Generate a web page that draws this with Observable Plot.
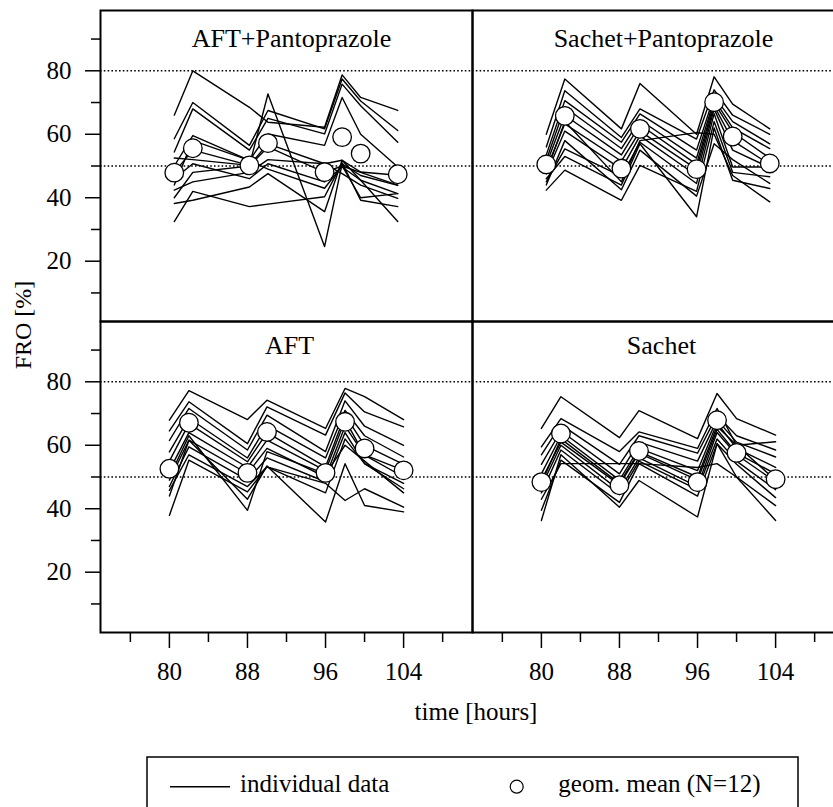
<!DOCTYPE html>
<html><head><meta charset="utf-8">
<script src="https://cdn.jsdelivr.net/npm/d3@7"></script>
<script src="https://cdn.jsdelivr.net/npm/@observablehq/plot@0.6"></script>
<style>
html,body{margin:0;padding:0;overflow:hidden;background:#fff;}
#wrap{position:relative;width:833px;height:807px;overflow:hidden;}
#wrap svg{max-width:none !important;}
#legend{position:absolute;left:0;top:750px;}
</style></head><body><div id="wrap"></div><script>
// Panels
const panelNames = ["AFT+Pantoprazole", "Sachet+Pantoprazole", "AFT", "Sachet"];
const panelCol = ["L", "R", "L", "R"];
const panelRow = ["T", "T", "B", "B"];

// Sampling times [hours]
const timesPanto = [80.5, 82.4, 88.2, 90.1, 95.9, 97.7, 99.6, 103.4];
const timesPlain = [80, 82, 88, 90, 96, 98, 100, 104];

// Geometric means (N=12)
const meanAFTPanto = [47.9, 55.6, 50.2, 57.2, 48.1, 59.1, 53.9, 47.4];
const meanSachetPanto = [50.5, 65.8, 49.2, 61.7, 49.0, 70.1, 59.3, 50.8];
const meanAFT = [52.6, 67.1, 51.3, 64.2, 51.3, 67.4, 59.0, 52.1];
const meanSachet = [48.4, 63.7, 47.4, 58.2, 48.4, 67.9, 57.6, 49.3];

// Individual data (12 subjects per panel)
const indAFTPanto = [
  [66, 80, 68.5, 63.8, 62.2, 78.7, 71.6, 67.5],
  [58.6, 70, 56.5, 67.5, 61.7, 77.4, 70.5, 61.2],
  [54.4, 68, 55, 65, 60.1, 75.8, 69, 57.5],
  [50, 59.6, 51.8, 60.1, 56.5, 71.6, 60, 49.7],
  [48, 55, 50.2, 72.7, 24.6, 50.7, 47, 43.9],
  [52.5, 52, 50.2, 57, 50.7, 51.8, 48.1, 47.1],
  [46, 50.7, 46, 50.7, 45, 49.7, 45.5, 41.3],
  [42.4, 45, 48, 52, 50.7, 47.6, 44, 39.8],
  [38.2, 39.2, 43.4, 47.6, 35.6, 51.8, 45.5, 32.5],
  [32.5, 42, 37.2, 38, 40.3, 51, 39.2, 37.2],
  [44, 58, 51.8, 49, 43, 50, 48, 44],
  [40, 48, 50, 56, 48, 50, 40, 41.3]
];
const indSachetPanto = [
  [60, 77.4, 61.7, 76, 60, 78.1, 69.5, 61.7],
  [56, 73.7, 59, 68, 58.5, 74, 66, 60],
  [53.5, 70.6, 57.5, 66.4, 55, 72, 64, 57],
  [51.8, 68.5, 55.5, 64.5, 52.5, 71, 62, 55.5],
  [50.5, 66, 53.5, 63, 50.5, 70, 60.7, 52.5],
  [49, 63.3, 51.5, 61, 49, 69, 58, 50.5],
  [47.5, 61, 49, 59.5, 47, 68, 55, 49.5],
  [45, 55.4, 46.7, 57.5, 44.5, 66.5, 49.7, 49.7],
  [42.4, 48.7, 39.2, 50.2, 42, 64, 48, 46.6],
  [46, 53, 44, 57, 34, 62, 45.5, 42.9],
  [48, 64, 45, 58, 60.5, 60, 47, 38.7],
  [44, 58, 42.5, 55, 40.5, 57, 52, 44.5]
];
const indAFT = [
  [67.9, 77.2, 68.1, 74.2, 65.3, 77.9, 75.3, 68.1],
  [64.5, 73.7, 60.5, 72.1, 63.2, 76.5, 70.5, 65.8],
  [61.5, 71.6, 58.5, 69.5, 58, 74, 66, 60],
  [57.9, 68.5, 56, 66.3, 56, 71, 63, 56.3],
  [55, 66.8, 54.8, 64, 53.2, 69.5, 60, 54],
  [52, 64, 53, 61.6, 52, 68, 57, 52.1],
  [49, 61.6, 51.1, 59, 50, 66, 56.9, 50],
  [47, 59.5, 49, 56, 48.5, 64, 54.2, 48],
  [45.8, 57, 47, 53.2, 45, 62, 54.2, 46.3],
  [37.9, 55.3, 45.3, 53.2, 48, 42.6, 46.3, 40.5],
  [44, 61.6, 43, 53.5, 35.8, 54.2, 41, 39],
  [50, 63, 39.5, 58, 51, 60, 55, 45]
];
const indSachet = [
  [65.3, 75.3, 62.4, 70.9, 62.1, 76.3, 68.4, 63.2],
  [59.5, 68.4, 58, 64.2, 59, 71.6, 60, 61.1],
  [57, 66.5, 54, 63, 57.5, 69.5, 63, 58.5],
  [54, 64.5, 51, 61, 55, 68, 61, 56.3],
  [51, 63, 49, 59, 52, 67, 59, 53],
  [49, 61, 47.5, 57.5, 49, 65, 57.5, 51],
  [47, 60, 45.8, 56, 47, 64, 57, 48.5],
  [45, 58.5, 44.5, 55, 46, 62, 55, 46],
  [39.5, 55.3, 42, 54.2, 44, 60.5, 54, 43.5],
  [36.3, 57, 40.5, 48.9, 37.4, 60.5, 50, 36.3],
  [43, 54.2, 54.2, 54.2, 53, 54.2, 50, 41],
  [48, 62, 48, 58, 50, 66, 60, 49]
];

// Axis ticks
const yTicksMajor = [20, 40, 60, 80];
const yTicksMinor = [10, 30, 50, 70, 90];
const xTicksMajor = [80, 88, 96, 104];
const xTicksMinor = [76, 84, 92, 100, 108];
const refLines = [50, 80];

// Build tables
const panelInd = [indAFTPanto, indSachetPanto, indAFT, indSachet];
const panelMean = [meanAFTPanto, meanSachetPanto, meanAFT, meanSachet];
const panelTimes = [timesPanto, timesPanto, timesPlain, timesPlain];

const indRows = [];
const meanRows = [];
const titleRows = [];
panelNames.forEach((name, p) => {
  titleRows.push({name, col: panelCol[p], row: panelRow[p]});
  panelInd[p].forEach((series, s) => {
    series.forEach((v, i) => indRows.push({id: name + s, t: panelTimes[p][i], v, col: panelCol[p], row: panelRow[p]}));
  });
  panelMean[p].forEach((v, i) => meanRows.push({t: panelTimes[p][i], v, col: panelCol[p], row: panelRow[p]}));
});

const font = "Liberation Serif, Times New Roman, serif";

const chart = Plot.plot({
  width: 844,
  height: 752,
  marginLeft: 99,
  marginRight: 0,
  marginTop: 10,
  marginBottom: 120,
  style: {fontFamily: font, fontSize: "25px", color: "black", background: "white", maxWidth: "none"},
  fx: {domain: ["L", "R"], axis: null, padding: 0},
  fy: {domain: ["T", "B"], axis: null, padding: 0},
  x: {domain: [72.94, 111.06]},
  y: {domain: [1, 99]},
  marks: [
    Plot.ruleY(refLines, {stroke: "black", strokeWidth: 1.6, strokeDasharray: "1.6,2.2"}),
    Plot.line(indRows, {x: "t", y: "v", z: "id", fx: "col", fy: "row", stroke: "black", strokeWidth: 1.4}),
    Plot.dot(meanRows, {x: "t", y: "v", fx: "col", fy: "row", r: 9.3, fill: "white", stroke: "black", strokeWidth: 1.3}),
    Plot.text(titleRows.filter(d => d.row === "T"), {fx: "col", fy: "row", text: "name", frameAnchor: "top", lineAnchor: "top", dy: 18, dx: 5, fontSize: 26, fill: "black"}),
    Plot.text(titleRows.filter(d => d.row === "B"), {fx: "col", fy: "row", text: "name", frameAnchor: "top", lineAnchor: "top", dy: 14, dx: 3, fontSize: 26, fill: "black"}),
    Plot.frame({stroke: "black", strokeWidth: 2}),
    Plot.axisY(yTicksMajor, {anchor: "left", facetAnchor: "left", tickSize: 15, tickPadding: 14, strokeWidth: 1.5, fontSize: 25, label: null}),
    Plot.axisY(yTicksMinor, {anchor: "left", facetAnchor: "left", tickSize: 9, tickFormat: () => "", strokeWidth: 1.5, label: null}),
    Plot.axisX(xTicksMajor, {anchor: "bottom", facetAnchor: "bottom", tickSize: 16, tickPadding: 14, strokeWidth: 1.5, fontSize: 25, label: null}),
    Plot.axisX(xTicksMinor, {anchor: "bottom", facetAnchor: "bottom", tickSize: 10, tickFormat: () => "", strokeWidth: 1.5, label: null})
  ]
});

const svg = d3.select(chart);
svg.append("text")
  .attr("transform", "translate(31,325) rotate(-90)")
  .attr("text-anchor", "middle")
  .attr("font-family", font)
  .attr("font-size", 24)
  .attr("fill", "black")
  .text("FRO [%]");
svg.append("text")
  .attr("x", 476)
  .attr("y", 720)
  .attr("text-anchor", "middle")
  .attr("font-family", font)
  .attr("font-size", 25)
  .attr("fill", "black")
  .text("time [hours]");

const wrap = document.getElementById("wrap");
wrap.appendChild(chart);

// Legend below the chart
const leg = d3.select(wrap).append("svg")
  .attr("id", "legend")
  .attr("width", 833)
  .attr("height", 57)
  .style("font-family", font);
leg.append("rect").attr("x", 147).attr("y", 7).attr("width", 651).attr("height", 80)
  .attr("fill", "white").attr("stroke", "black").attr("stroke-width", 1.5);
leg.append("line").attr("x1", 170).attr("x2", 230).attr("y1", 36.7).attr("y2", 36.7)
  .attr("stroke", "black").attr("stroke-width", 1.5);
leg.append("text").attr("x", 240).attr("y", 41.7).attr("font-size", 25).attr("fill", "black").text("individual data");
leg.append("circle").attr("cx", 516.7).attr("cy", 36.7).attr("r", 6.5)
  .attr("fill", "white").attr("stroke", "black").attr("stroke-width", 1.2);
leg.append("text").attr("x", 558.3).attr("y", 41.7).attr("font-size", 25).attr("fill", "black").text("geom. mean (N=12)");
</script></body></html>
